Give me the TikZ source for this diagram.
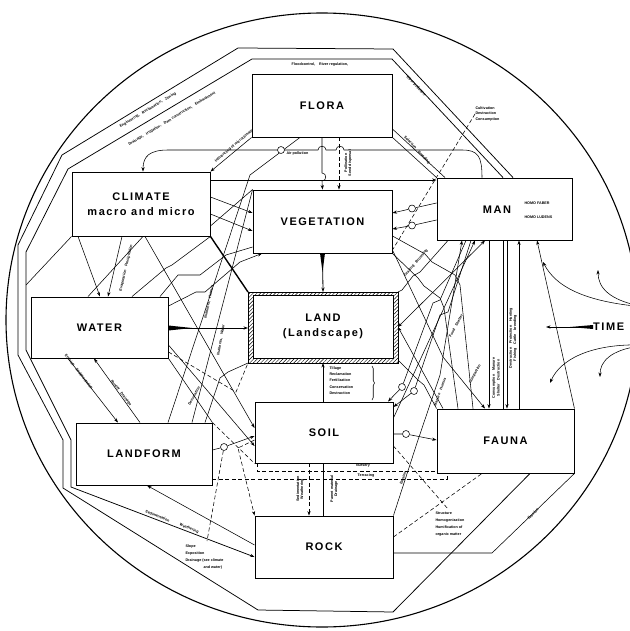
\documentclass[tikz,border=0pt]{standalone}
\usepackage{fontspec}
\setmainfont{Liberation Sans}
\newfontfamily\boxfont{Liberation Sans}[LetterSpace=14]
\usetikzlibrary{arrows.meta,patterns.meta,decorations.pathreplacing}
\pgfdeclarelayer{bg}
\pgfsetlayers{bg,main}
\tikzset{
  box/.style={draw, line width=0.9pt, fill=white, align=center, inner sep=0pt, font=\boxfont\bfseries\fontsize{11}{15}\selectfont},
  ln/.style={line width=0.55pt},
  arr/.style={ln, -{Stealth[length=4.5pt,width=3.2pt]}},
  rarr/.style={ln, {Stealth[length=4.5pt,width=3.2pt]}-},
  darr/.style={ln, {Stealth[length=4.5pt,width=3.2pt]}-{Stealth[length=4.5pt,width=3.2pt]}},
  dsh/.style={ln, dash pattern=on 4pt off 2.5pt},
  lab/.style={font=\bfseries\fontsize{3.7}{4.4}\selectfont, inner sep=0.3pt, align=left},
  ring/.style={draw, circle, minimum size=7pt, inner sep=0pt, line width=0.55pt, fill=white},
  octa/.style={line width=0.75pt},
}
\begin{document}
\begin{tikzpicture}[x=1pt,y=-1pt]
\useasboundingbox (0,0) rectangle (629,631);
\clip (0,0) rectangle (629,631);

% ---------- boxes ----------
\node[box, minimum width=140pt, minimum height=63pt] (flora) at (322,105.5) {FLORA};
\node[box, minimum width=139pt, minimum height=63pt] (veg) at (322.5,221.5) {VEGETATION};
\node[box, minimum width=138pt, minimum height=64pt] (climate) at (141,204) {CLIMATE\\macro and micro};
\node[box, minimum width=135pt, minimum height=62pt] (man) at (504.5,209) {};
\node[font=\boxfont\bfseries\fontsize{11}{15}\selectfont, inner sep=0pt] (mantxt) at (497,210) {MAN};
\node[lab, anchor=west] (faber) at (524,203) {HOMO FABER};
\node[lab, anchor=west] (ludens) at (524,217) {HOMO LUDENS};
\node[box, minimum width=137pt, minimum height=61pt] (water) at (99.5,327.5) {WATER};
\fill[pattern={Lines[angle=45,distance=2.6pt,line width=0.45pt]}, even odd rule] (248,292) rectangle (398,363) (253,295.5) rectangle (393,358);
\draw[line width=0.8pt] (248,292) rectangle (398,363);
\node[box, minimum width=140pt, minimum height=62.5pt] (land) at (323,326.75) {LAND\\(Landscape)};
\node[box, minimum width=138pt, minimum height=61pt] (soil) at (324,432.5) {SOIL};
\node[box, minimum width=137pt, minimum height=64pt] (fauna) at (505.5,441) {FAUNA};
\node[box, minimum width=136pt, minimum height=62pt] (landform) at (144,454) {LANDFORM};
\node[box, minimum width=138pt, minimum height=62pt] (rock) at (324,547) {ROCK};
\node[font=\boxfont\bfseries\fontsize{11}{15}\selectfont, anchor=west, inner sep=0pt] (time) at (593,327) {TIME};

\coordinate (lfN) at (323,292);
\coordinate (lfS) at (323,363);
\coordinate (lfW) at (248,328);
\coordinate (lfE) at (398,327);
\coordinate (lfNW) at (248,292);
\coordinate (lfNE) at (398,292);
\coordinate (lfSW) at (248,363);

% ---------- rings ----------
\node[ring] (rAir) at (281,150) {};
\node[ring] (rM1) at (412,208.5) {};
\node[ring] (rM2) at (412,225.5) {};
\node[ring] (rLF) at (224,447) {};
\node[ring] (rS) at (406,434) {};
\node[ring] (rA) at (402,387) {};
\node[ring] (rB) at (414,391) {};

% ---------- labels ----------
\node[lab] (lflood) at (320,65) {Floodcontrol,\quad River regulation,};
\node[lab, rotate=31] (leng) at (148,110) {Engineering,\quad Reclamation,\quad Zoning};
\node[lab, rotate=31] (ldrain) at (172,119) {Drainage,\quad Irrigation,\quad Dam construction,\quad Embankment};
\node[lab, rotate=-47] (lriver) at (416,86) {River pollution};
\node[lab, anchor=west, font=\bfseries\fontsize{3.7}{5.2}\selectfont] (cult) at (475,114) {Cultivation\\Destruction\\Consumption};
\node[lab, anchor=north west] (lair) at (286,151) {Air pollution};
\node[lab, rotate=40] (linfl) at (234,146) {Influencing of microclimate};
\node[lab, rotate=-47] (lsel) at (417,150) {Selection\quad Breeding};
\node[lab, rotate=90] (lpoll1) at (345.8,163) {Pollination};
\node[lab, rotate=90] (lpoll2) at (350.2,163) {Seed dispersal};
\node[lab, rotate=77] (levap) at (126,268) {Evaporation\quad Precipitation};
\node[lab, rotate=-52] (lero) at (79,372) {Erosion\quad Sedimentation};
\node[lab, rotate=-52] (lrun) at (121,393) {Runoff\quad Drainage};
\node[lab, rotate=-21] (lsedw) at (172,522) {Sedimentation\qquad\quad Weathering};
\node[lab, anchor=north west, font=\bfseries\fontsize{3.7}{7}\selectfont] (lslope) at (185,544) {Slope\\Exposition\\Drainage (see climate\\\hspace*{18pt}and water)};
\node[lab, anchor=north west, font=\bfseries\fontsize{3.7}{6.3}\selectfont] (till) at (329,366) {Tillage\\Reclamation\\Fertilization\\Conservation\\Destruction};
\node[lab, rotate=90] (lsw1) at (297.8,489) {Sedimentation};
\node[lab, rotate=90] (lsw2) at (302.2,489) {Weathering};
\node[lab, rotate=90] (lpm1) at (331.8,489) {Parent material};
\node[lab, rotate=90] (lpm2) at (336.2,489) {Drainage};
\node[lab] (lnur) at (363,466) {Nursery};
\node[lab] (lter) at (366,475.5) {Terracing};
\node[lab, anchor=north west, font=\bfseries\fontsize{3.7}{7}\selectfont] (lstruct) at (435,511) {Structure\\Homogenization\\Humification of\\organic matter};
\node[lab, rotate=45] (lero2) at (533,514) {Erosion};
\node[lab, rotate=72] (lero3) at (403,478) {Erosion};
\node[lab, rotate=90] (lcons1) at (493.8,378) {Consumption\quad Manure};
\node[lab, rotate=90] (lcons2) at (498.2,378) {Shelter\quad Destruction};
\node[lab, rotate=90] (ldest1) at (510.8,338) {Destruction\quad Protection\quad Hunting};
\node[lab, rotate=90] (ldest2) at (515.2,338) {Fishing\quad Cattle\quad breeding};
\node[lab, rotate=78] (lnut1) at (209,302) {Nutrients,\quad Humus};
\node[lab, rotate=80] (lnut2) at (221,340) {Nutrients,\quad Water};
\node[lab, rotate=50] (lgraz) at (416,263) {Grazing\quad Browsing};
\node[lab, rotate=62] (lfood) at (456,326) {Food\quad Shelter};
\node[lab, rotate=70] (lmanu) at (440,392) {Manure\quad Humus};
\node[lab, rotate=60] (lden) at (194,396) {Denudation};
\node[lab, rotate=62] (lcomp) at (475,374) {Compaction};

\begin{pgfonlayer}{bg}
% outer circle
\draw[line width=1.1pt] (322,320) ellipse [x radius=316pt, y radius=307pt];

% octagonal double frame
\draw[octa] (man.north -| 513,0) -- (393,49) -- (238,48) -- (62,155) -- (18,245) -- (18,355) -- (63,440) -- (63,488) -- (258,610) -- (393,612) -- (fauna.south -| 530,0);
\draw[octa, -{Stealth[length=4.5pt,width=3.2pt]}] (man.north -| 503,0) -- (392,59) -- (252,59) -- (68,169) -- (26,252) -- (26,350) -- (71,440) -- (71,487) -- (rock.west |- 0,557);

% central arrows
\fill (320,253) -- (325,253) -- (322.5,272) -- cycle;
\draw[arr, line width=0.8pt] (veg.south) -- (lfN);
\draw[arr] (soil.north -| 323,0) -- (lfS);
\fill (water.east |- 0,325.5) -- (water.east |- 0,330.5) -- (192,328) -- cycle;
\draw[arr, line width=0.9pt] (water.east |- 0,328) -- (lfW);
\draw[decorate, decoration={brace, amplitude=2.5pt}, ln] (372,366) -- (372,400);

% flora - vegetation
\draw[arr] (flora.south) -- (322,173) .. controls (327,173) and (327,181) .. (322,181) -- (veg.north);
\draw[dsh, -{Stealth[length=4.5pt,width=3.2pt]}] (flora.south -| 339,0) -- (veg.north -| 339,0);
\draw[arr] (flora.south west) -- (climate.north east);
\draw[ln] (flora.south -| 300,0) -- (250,175) -- (landform.north -| 168,0);
\draw[ln] (flora.south east) -- (man.north west);
\draw[ln] (flora.east |- 0,129) -- (man.north -| 445,0);
\draw[dsh] (cult.west) -- (veg.east |- 0,250);

% air pollution arc
\draw[arr] (man.north -| 482,0) .. controls (482,156) and (478,150) .. (462,150) -- (344,150) .. controls (344,145) and (336,145) .. (336,150) -- (326,150) .. controls (326,145) and (318,145) .. (318,150) -- (168,150) .. controls (150,150) and (143,156) .. (climate.north -| 143,0);

% climate connections
\draw[arr] (climate.east |- 0,180) -- (man.west |- 0,180);
\draw[arr] (climate.east |- 0,197) -- (veg.west |- 0,213);
\draw[arr] (climate.east |- 0,214) -- (veg.west |- 0,231);
\draw[ln] (climate.east |- 0,226) -- (veg.north west);
\draw[line width=1.4pt] (climate.south east) -- (lfNW);
\draw[arr] (climate.south -| 145,0) -- (soil.west |- 0,428);
\draw[ln] (climate.south east) -- (172,265) -- (166,268) -- (water.north -| 132,0);
\draw[ln] (climate.south west) -- (26,285);
\draw[arr] (climate.south -| 78,0) -- (water.north -| 100,0);
\draw[arr] (climate.south -| 122,0) -- (water.north -| 108,0);
\draw[ln] (climate.south -| 143,0) -- (water.north -| 88,0);

% vegetation / water / landform, left side
\draw[ln] (veg.north west) -- (landform.north -| 192,0);
\draw[ln] (water.north -| 160,0) -- (178,275) -- (200,275) -- (226,255) -- (veg.west |- 0,247);
\draw[arr] (water.east |- 0,306) -- (196,292) -- (205,292) -- (240,262) -- (veg.south -| 262,0);
\draw[arr] (water.east |- 0,345) -- (soil.west |- 0,446);
\draw[ln] (water.south east) -- (landform.north east);
\draw[dsh] (water.east |- 0,352) -- (236,392) -- (lfSW);
\draw[ln] (lfSW) -- (228,372) -- (220,378) -- (landform.north -| 205,0);
\draw[arr] (water.south -| 68,0) -- (landform.north -| 118,0);
\draw[arr] (landform.north -| 140,0) -- (water.south -| 94,0);

% landform / soil / rock
\draw[arr] (landform.east |- 0,450) -- (rLF) -- (soil.west |- 0,436);
\draw[dsh] (landform.north east) -- (soil.south west);
\draw[dsh, -{Stealth[length=4.5pt,width=3.2pt]}] (soil.west |- 0,440) -- (238,448) -- (rock.north west);
\draw[dsh] (rLF) -- (207,541);
\draw[arr] (rock.west |- 0,545) -- (landform.south -| 147,0);
\draw[dsh, -{Stealth[length=4.5pt,width=3.2pt]}] (soil.south -| 309,0) -- (rock.north -| 309,0);
\draw[ln] (soil.south -| 323,0) -- (rock.north -| 323,0);
\draw[dsh] (landform.east |- 0,479) -- (447,479) -- (fauna.south -| 447,0);
\draw[dsh] (soil.south -| 257,0) -- (257,471) -- (fauna.west |- 0,471);

% soil / fauna / rock, right side
\draw[arr] (soil.east |- 0,434) -- (rS) -- (fauna.west |- 0,440);
\draw[dsh] (soil.east |- 0,446) -- (448,509);
\draw[dsh] (rock.east |- 0,537) -- (fauna.south -| 482,0);
\draw[ln] (rock.east |- 0,553) -- (492,553) -- (fauna.south east);
\draw[arr] (rock.north east) -- (417,443) -- (440,375) -- (man.south -| 462,0);

% man / land / fauna fans
\draw[darr] (man.south -| 485,0) -- (lfE);
\draw[arr] (fauna.north -| 443,0) -- (lfE);
\draw[arr] (veg.east |- 0,250) -- (443,357) -- (fauna.north -| 485,0);
\draw[arr] (soil.east |- 0,418) -- (man.south -| 475,0);
\draw[ln] (veg.east |- 0,236) -- (425,254) -- (432,262) -- (455,275) -- (460,285) -- (fauna.north -| 473,0);
\draw[ln] (veg.south east) -- (418,278) -- (424,286) -- (440,298) -- (444,308) -- (fauna.north -| 458,0);
\draw[ln] (man.south -| 448,0) -- (420,272) -- (413,276) -- (402,290) -- (lfNE);
\draw[arr] (man.south -| 466,0) -- (440,300) -- (433,303) -- (rA) -- (soil.north -| 388,0);
\draw[arr] (man.south -| 471,0) -- (448,312) -- (440,315) -- (rB) -- (soil.east |- 0,407);
\draw[ln] (lfE |- 0,360) -- (418,380) -- (424,385) -- (fauna.north west);

% man - vegetation
\draw[arr] (man.west |- 0,203) -- (rM1) -- (veg.east |- 0,213);
\draw[arr] (man.west |- 0,220) -- (rM2) -- (veg.east |- 0,229);

% man - fauna
\draw[arr] (man.south -| 489,0) -- (fauna.north -| 489,0);
\draw[ln] (man.south -| 503,0) -- (fauna.north -| 503,0);
\draw[arr] (man.south -| 507,0) -- (fauna.north -| 507,0);
\draw[rarr] (man.south -| 519,0) -- (fauna.north -| 519,0);
\draw[rarr] (man.south -| 537,0) -- (fauna.north east);

% time
\fill (time.west |- 0,325) -- (time.west |- 0,329) -- (570,327) -- cycle;
\draw[arr, line width=0.8pt] (time.west) -- (546,327);
\draw[arr] (645,307) .. controls (585,302) and (556,287) .. (543,262);
\draw[arr] (640,306) .. controls (610,300) and (598,288) .. (598,270);
\draw[arr] (645,345) .. controls (590,343) and (560,360) .. (550,383);
\draw[arr] (640,346) .. controls (610,350) and (600,362) .. (600,377);
\end{pgfonlayer}
\end{tikzpicture}
\end{document}
